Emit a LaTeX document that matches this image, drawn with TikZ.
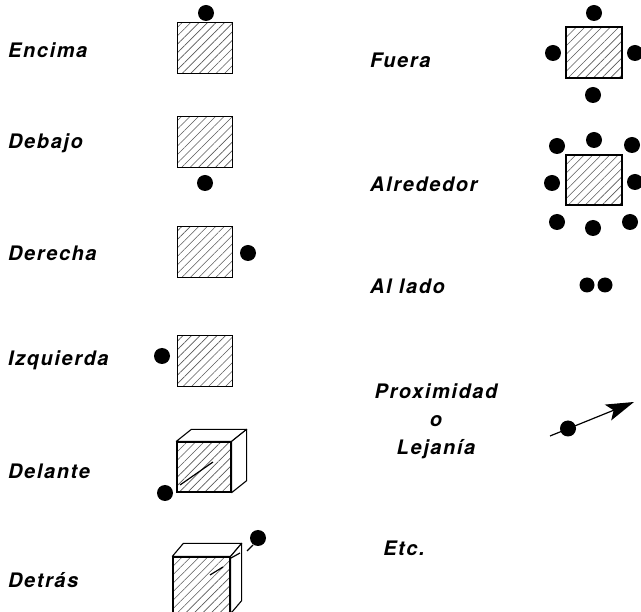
\documentclass[tikz,border=0pt]{standalone}
\usepackage{fontspec}
\newfontfamily\rotulo[LetterSpace=8]{TeX Gyre Heros}
\usetikzlibrary{arrows.meta,calc,patterns.meta}

\begin{document}
\begin{tikzpicture}[x=1pt, y=-1pt, >=Stealth,
    caja/.style={draw, line width=1.3pt, minimum width=55pt, minimum height=51pt, inner sep=0pt,
      pattern={Lines[angle=45, distance=6pt, line width=0.6pt]}, pattern color=black!65},
    cara/.style={draw, line width=1.1pt, fill=white, line join=round},
    punto/.style={circle, fill, inner sep=0pt, minimum size=16pt},
    etiqueta/.style={font=\rotulo\fontsize{20}{28}\selectfont\bfseries\itshape, inner sep=0pt},
    traza/.style={line width=1.2pt}]

\useasboundingbox (0,0) rectangle (641,612);

% columna izquierda
\node [etiqueta, anchor=west] (lencima) at (8,50) {Encima};
\node [caja] (encima) at (205,48) {};
\node [punto] (encimaP) at (206,13) {};

\node [etiqueta, anchor=west] (ldebajo) at (8,143) {Debajo};
\node [caja] (debajo) at (205,142) {};
\node [punto] (debajoP) at (205,183) {};

\node [etiqueta, anchor=west] (lderecha) at (8,253) {Derecha};
\node [caja] (derecha) at (205,252) {};
\node [punto] (derechaP) at (248,253) {};

\node [etiqueta, anchor=west] (lizq) at (8,360) {Izquierda};
\node [caja] (izq) at (205,361) {};
\node [punto] (izqP) at (162,356) {};

% cubo delante
\node [etiqueta, anchor=west] (ldelante) at (8,471) {Delante};
\node [caja, minimum width=54pt, minimum height=50pt] (delante) at (204,467) {};
\draw [cara] (delante.north west) -- ++(15,-12) -- ($(delante.north east)+(15,-12)$) -- (delante.north east) -- cycle;
\draw [cara] (delante.north east) -- ++(15,-12) -- ($(delante.south east)+(15,-12)$) -- (delante.south east) -- cycle;
\node [punto] (delanteP) at (165,493) {};
\coordinate (delA) at (180,485);
\coordinate (delB) at (213,462);
\draw [traza] (delA) -- (delB);

% cubo detras
\node [etiqueta, anchor=west] (ldetras) at (8,580) {Detrás};
\node [caja, minimum width=57pt, minimum height=56pt] (detras) at (201.5,585) {};
\draw [cara] (detras.north west) -- ++(11,-13) -- ($(detras.north east)+(11,-13)$) -- (detras.north east) -- cycle;
\draw [cara] (detras.north east) -- ++(11,-13) -- ($(detras.south east)+(11,-13)$) -- (detras.south east) -- cycle;
\node [punto] (detrasP) at (258,538) {};
\coordinate (detA) at (253,545);
\coordinate (detB) at (247,551);
\coordinate (detC) at (240,553);
\coordinate (detD) at (231,558);
\coordinate (detE) at (223,567);
\coordinate (detF) at (210,575);
\draw [traza] (detA) -- (detB);
\draw [traza] (detC) -- (detD);
\draw [traza] (detE) -- (detF);

% columna derecha
\node [etiqueta, anchor=west] (lfuera) at (370,60) {Fuera};
\node [caja, minimum width=56pt] (fuera) at (594,52.5) {};
\node [punto] (fueraN) at (594,13) {};
\node [punto] (fueraW) at (553,53) {};
\node [punto] (fueraE) at (635,53) {};
\node [punto] (fueraS) at (593,95) {};

\node [etiqueta, anchor=west] (lalred) at (370,184) {Alrededor};
\node [caja, minimum width=56pt, minimum height=50pt] (alred) at (594,180) {};
\node [punto] (alredN) at (594,140) {};
\node [punto] (alredNW) at (557,146) {};
\node [punto] (alredNE) at (632,145) {};
\node [punto] (alredW) at (552,183) {};
\node [punto] (alredE) at (635,182) {};
\node [punto] (alredSW) at (557,222) {};
\node [punto] (alredS) at (593,228) {};
\node [punto] (alredSE) at (630,222) {};

\node [etiqueta, anchor=west] (llado) at (370,286) {Al lado};
\node [punto, minimum size=15pt] (ladoA) at (587,285) {};
\node [punto, minimum size=15pt] (ladoB) at (605,285) {};

\node [etiqueta, align=center] (lprox) at (436,421) {Proximidad\\o\\Lejanía};
\coordinate (proxA) at (550,436);
\coordinate (proxB) at (634,402);
\draw [traza, -{Stealth[length=28pt, width=17pt, inset=6pt]}] (proxA) -- (proxB);
\node [punto] (proxP) at (568,428.5) {};

\node [etiqueta] (letc) at (404,548) {Etc.};

\end{tikzpicture}
\end{document}
